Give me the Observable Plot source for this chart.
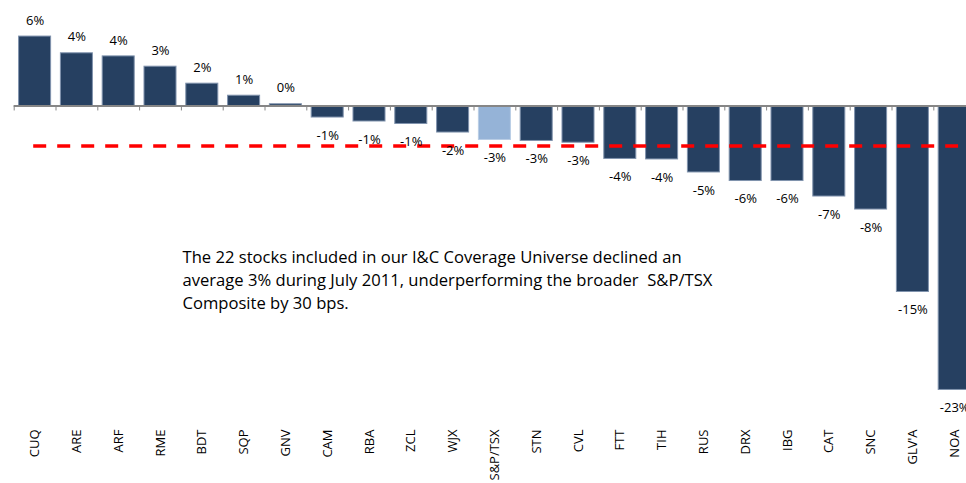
<!DOCTYPE html>
<html>
<head>
<meta charset="utf-8">
<script src="https://cdn.jsdelivr.net/npm/d3@7"></script>
<script src="https://cdn.jsdelivr.net/npm/@observablehq/plot@0.6"></script>
<style>
  html, body { margin: 0; padding: 0; background: #fff; overflow: hidden; }
  #chart svg { overflow: hidden !important; display: block; }
</style>
</head>
<body>
<div id="chart"></div>
<script>
const tickers = ["CUQ","ARE","ARF","RME","BDT","SQP","GNV","CAM","RBA","ZCL","WJX","S&P/TSX","STN","CVL","FTT","TIH","RUS","DRX","IBG","CAT","SNC","GLV'A","NOA"];
const returns = [5.6, 4.25, 4.0, 3.17, 1.8, 0.83, 0.14, -0.93, -1.25, -1.45, -2.14, -2.74, -2.82, -2.96, -4.27, -4.31, -5.36, -6.05, -6.05, -7.3, -8.35, -15.0, -22.9];
const benchmark = "S&P/TSX";
const averageReturn = -3.23;
const note = "The 22 stocks included in our I&C Coverage Universe declined an\naverage 3% during July 2011, underperforming the broader  S&P/TSX\nComposite by 30 bps.";

const data = tickers.map((t, i) => ({ticker: t, value: returns[i]}));
const fmt = v => `${Math.round(v)}%`;

const W = 966, H = 483;
const mL = 13.7, mR = -9.1;
const step = (W - mL - mR) / tickers.length;
const font = "'Open Sans', sans-serif";

const chart = Plot.plot({
  width: W,
  height: H,
  marginLeft: mL,
  marginRight: mR,
  marginTop: 0,
  marginBottom: 60,
  style: {fontFamily: font, fontSize: "13px", color: "#000", background: "#fff"},
  x: {domain: tickers, range: [mL, W - mR], paddingInner: 0.234, paddingOuter: 0.117, align: 0.5, round: false, axis: null},
  y: {domain: [-25, 8], range: [105.5 + 25 * 12.4, 105.5 - 8 * 12.4], axis: null},
  marks: [
    Plot.barY(data, {
      x: "ticker", y: "value",
      fill: d => d.ticker === benchmark ? "#95B3D7" : "#264061",
      stroke: d => d.ticker === benchmark ? "#B9CDE5" : "#8093AD",
      strokeWidth: 1
    }),
    Plot.ruleY([0], {stroke: "#868686", strokeWidth: 2}),
    Plot.ruleX(tickers, {x: d => d, y1: 0, y2: -0.4, dx: -step / 2, stroke: "#868686", strokeWidth: 1}),
    Plot.ruleY([averageReturn], {stroke: "#FF0000", strokeWidth: 3.5, strokeDasharray: "13,11", insetLeft: 19.5, insetRight: 17}),
    Plot.text(data.filter(d => d.value >= 0), {x: "ticker", y: "value", text: d => fmt(d.value), dy: -16, fill: "#000", fontSize: 13}),
    Plot.text(data.filter(d => d.value < 0), {x: "ticker", y: "value", text: d => fmt(d.value), dy: 18, fill: "#000", fontSize: 13}),
    Plot.axisX({anchor: "bottom", tickRotate: -90, tickSize: 0, tickPadding: 6, label: null, fontSize: 13, fill: "#000"}),
    Plot.text([note], {frameAnchor: "top-left", dx: 182 - mL, dy: 246, text: d => d, textAnchor: "start", lineAnchor: "top", lineHeight: 1.386, fontSize: 16.6, fill: "#000"})
  ]
});
document.getElementById("chart").append(chart);
</script>
</body>
</html>
